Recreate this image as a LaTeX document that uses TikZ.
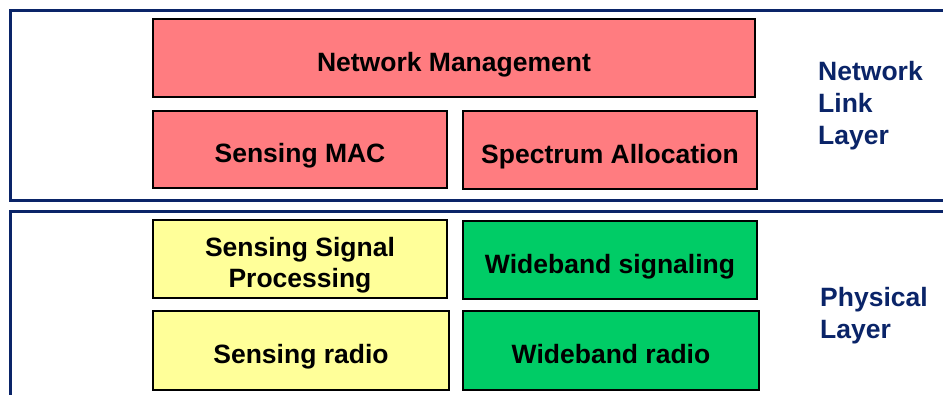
\documentclass[tikz,border=0pt]{standalone}
\usepackage{fontspec}
\setmainfont{Liberation Sans}
\definecolor{navy}{HTML}{0A2468}
\definecolor{redfill}{HTML}{FF7C80}
\definecolor{yelfill}{HTML}{FFFF99}
\definecolor{grnfill}{HTML}{00CC66}
\begin{document}
\begin{tikzpicture}[x=1pt,y=-1pt,
  frame/.style={draw=navy,line width=2.4pt},
  blk/.style={draw=black,line width=2.3pt,font=\fontsize{26.5}{31}\selectfont\bfseries,inner sep=0pt,text height=27pt,text depth=0pt},
  blkii/.style={blk,text height=0pt,text depth=4.6pt},
  lbl/.style={text=navy,font=\fontsize{26.5}{32}\selectfont\bfseries,align=left,anchor=west,inner sep=0pt}]
\useasboundingbox (0,0) rectangle (943,395);
\draw[frame] (10.5,10.5) rectangle (960,200.5);
\draw[frame] (10.5,211.5) rectangle (960,420);
\node[blk,fill=redfill,minimum width=602pt,minimum height=78pt] (nm) at (454,58) {Network Management};
\node[blk,fill=redfill,minimum width=294pt,minimum height=77pt] (mac) at (300,149.5) {Sensing MAC};
\node[blk,fill=redfill,minimum width=294pt,minimum height=78pt] (sa) at (610,150) {Spectrum Allocation};
\node[blkii,fill=yelfill,minimum width=294pt,minimum height=78pt] (ssp) at (300,259) {\smash{\begin{tabular}[t]{@{}c@{}}Sensing Signal\\Processing\end{tabular}}};
\node[blk,fill=grnfill,minimum width=294pt,minimum height=78pt] (ws) at (610,260) {Wideband signaling};
\node[blk,fill=yelfill,minimum width=296pt,minimum height=79pt] (sr) at (301,350.5) {Sensing radio};
\node[blk,fill=grnfill,minimum width=296pt,minimum height=79pt] (wr) at (611,350.5) {Wideband radio};
\node[lbl] (nll) at (818,105.5) {Network\\Link\\Layer};
\node[lbl] (phy) at (820,315.5) {Physical\\Layer};
\end{tikzpicture}
\end{document}
